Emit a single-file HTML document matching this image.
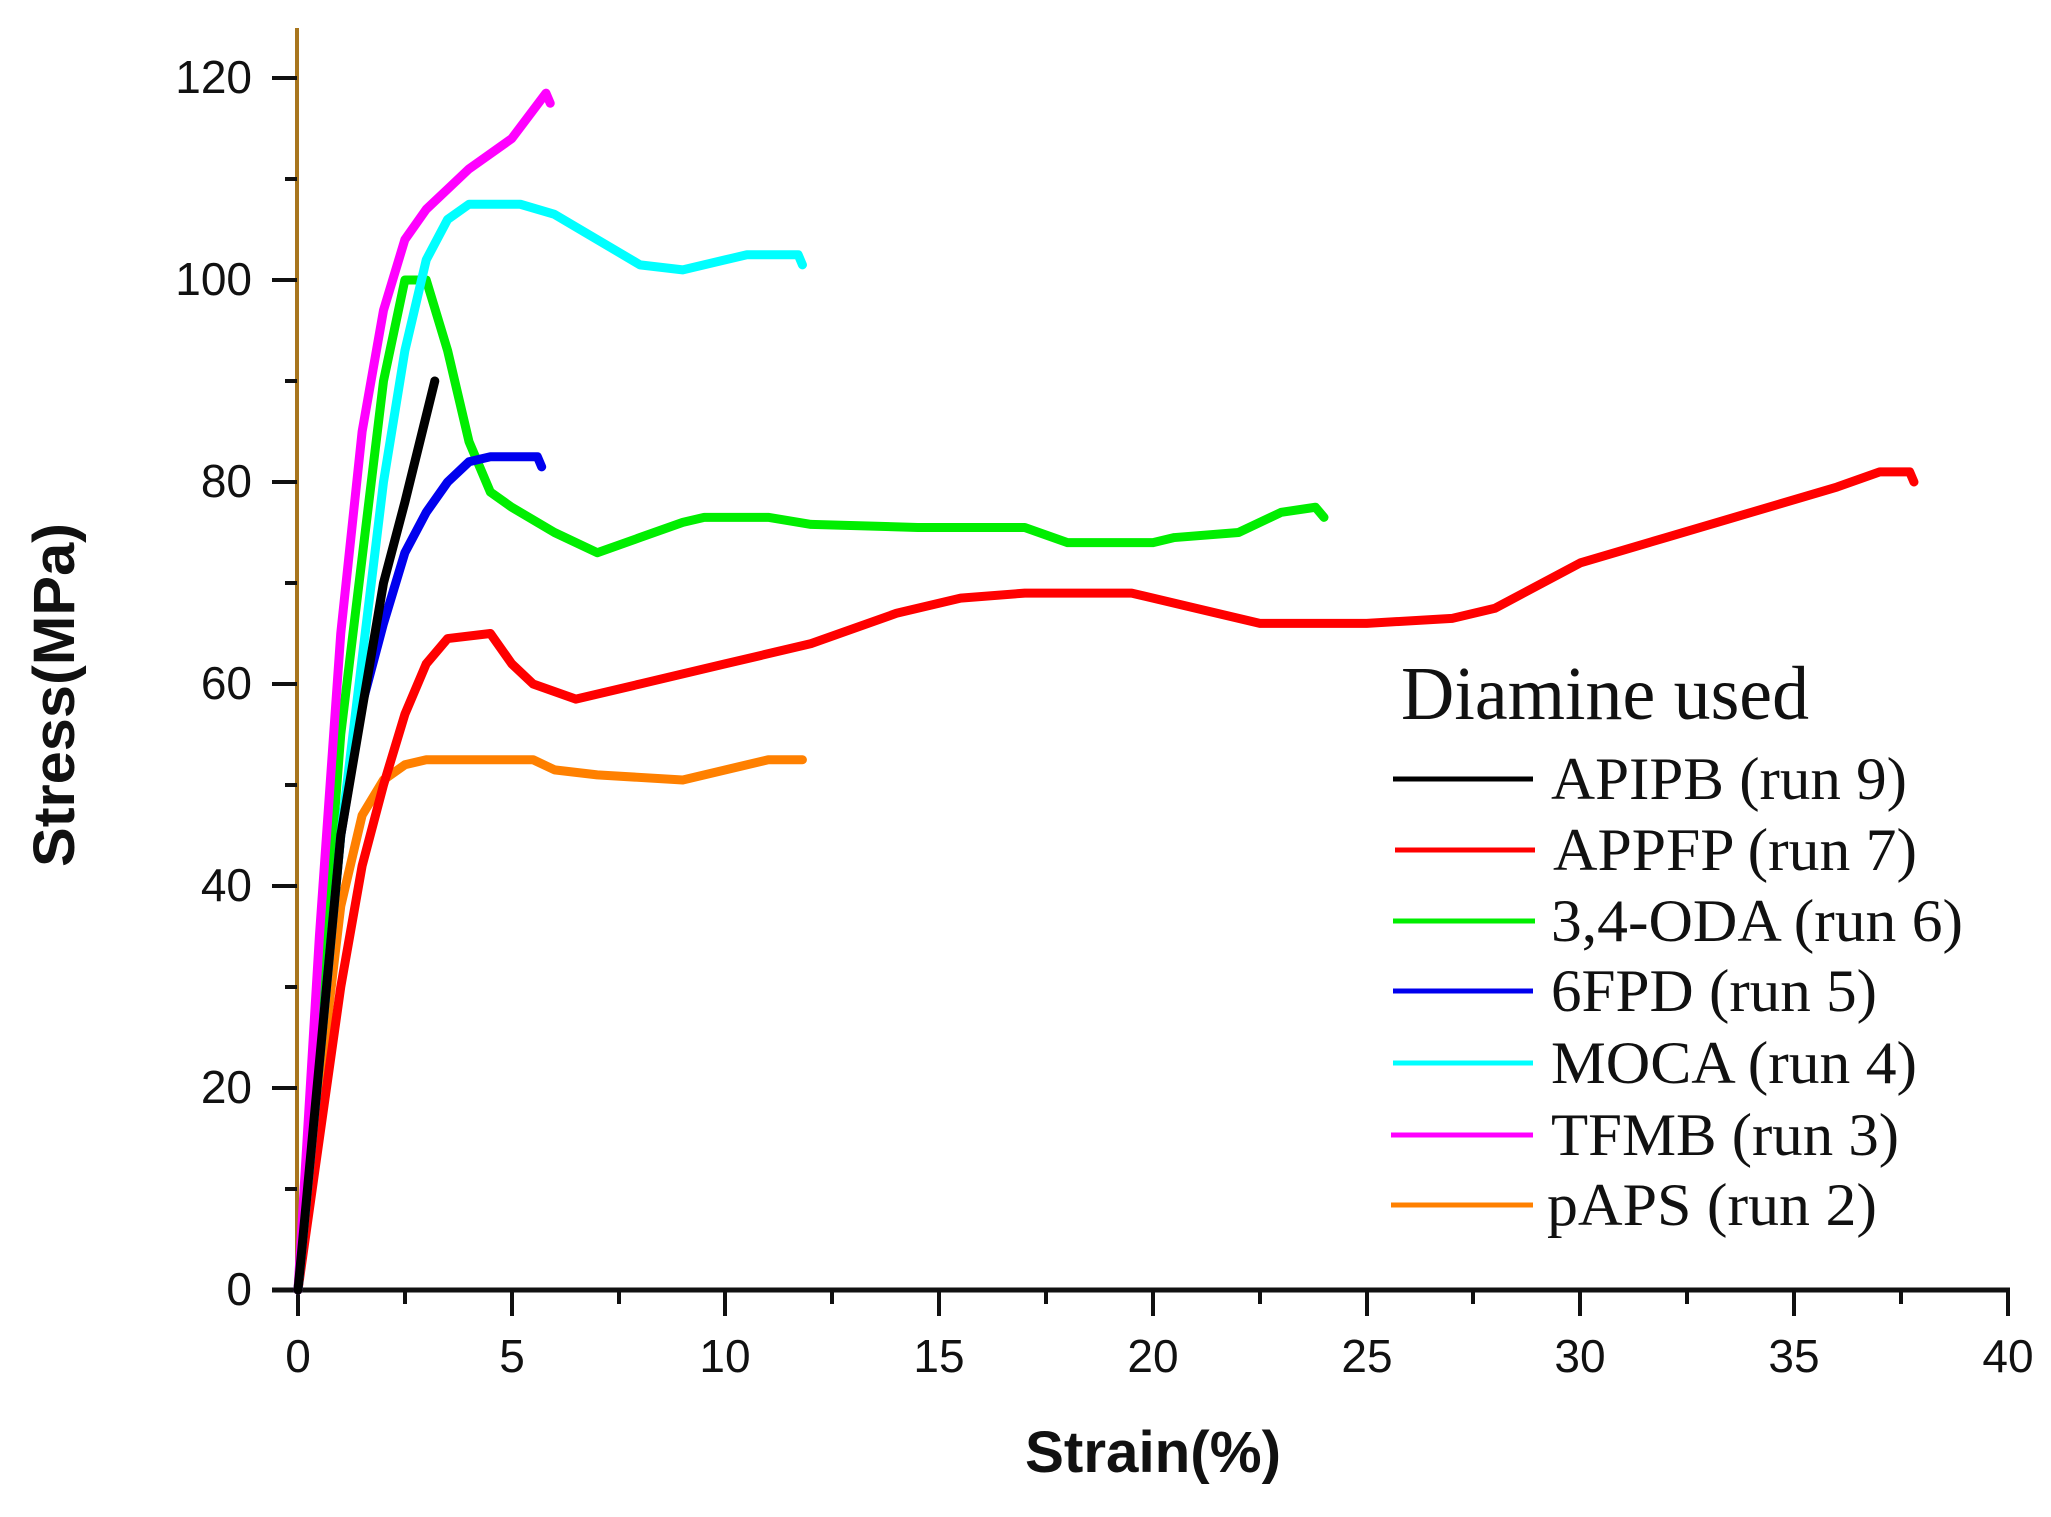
<!DOCTYPE html>
<html><head><meta charset="utf-8"><style>
html,body{margin:0;padding:0;background:#fff;}
svg{display:block}
.t{font-family:"Liberation Sans",Arial,sans-serif;font-size:46px;fill:#111}
.lg{font-family:"Liberation Serif","Times New Roman",serif;fill:#111}
</style></head><body>
<svg width="2051" height="1517" viewBox="0 0 2051 1517" xmlns="http://www.w3.org/2000/svg">
<line x1="297" y1="28" x2="297" y2="1292" stroke="#a8761e" stroke-width="4"/>
<line x1="272" y1="1290" x2="2010" y2="1290" stroke="#111" stroke-width="5"/>
<g stroke="#111" stroke-width="4">
<line x1="272" y1="1290" x2="297" y2="1290"/><line x1="272" y1="1088" x2="297" y2="1088"/>
<line x1="272" y1="886" x2="297" y2="886"/><line x1="272" y1="684" x2="297" y2="684"/>
<line x1="272" y1="482" x2="297" y2="482"/><line x1="272" y1="280" x2="297" y2="280"/>
<line x1="272" y1="78" x2="297" y2="78"/>
<line x1="285" y1="1189" x2="297" y2="1189"/><line x1="285" y1="987" x2="297" y2="987"/>
<line x1="285" y1="785" x2="297" y2="785"/><line x1="285" y1="583" x2="297" y2="583"/>
<line x1="285" y1="381" x2="297" y2="381"/><line x1="285" y1="179" x2="297" y2="179"/>
<line x1="298" y1="1290" x2="298" y2="1316"/><line x1="512" y1="1290" x2="512" y2="1316"/>
<line x1="725" y1="1290" x2="725" y2="1316"/><line x1="939" y1="1290" x2="939" y2="1316"/>
<line x1="1153" y1="1290" x2="1153" y2="1316"/><line x1="1367" y1="1290" x2="1367" y2="1316"/>
<line x1="1580" y1="1290" x2="1580" y2="1316"/><line x1="1794" y1="1290" x2="1794" y2="1316"/>
<line x1="2008" y1="1290" x2="2008" y2="1316"/>
<line x1="405" y1="1290" x2="405" y2="1304"/><line x1="619" y1="1290" x2="619" y2="1304"/>
<line x1="832" y1="1290" x2="832" y2="1304"/><line x1="1046" y1="1290" x2="1046" y2="1304"/>
<line x1="1260" y1="1290" x2="1260" y2="1304"/><line x1="1473" y1="1290" x2="1473" y2="1304"/>
<line x1="1687" y1="1290" x2="1687" y2="1304"/><line x1="1901" y1="1290" x2="1901" y2="1304"/>
</g>
<g class="t" text-anchor="end">
<text x="252" y="1305">0</text><text x="252" y="1103">20</text><text x="252" y="901">40</text>
<text x="252" y="699">60</text><text x="252" y="497">80</text><text x="252" y="295">100</text>
<text x="252" y="93">120</text>
</g>
<g class="t" text-anchor="middle">
<text x="298" y="1372">0</text><text x="512" y="1372">5</text><text x="725" y="1372">10</text>
<text x="939" y="1372">15</text><text x="1153" y="1372">20</text><text x="1367" y="1372">25</text>
<text x="1580" y="1372">30</text><text x="1794" y="1372">35</text><text x="2008" y="1372">40</text>
</g>
<text class="t" x="1153" y="1472" text-anchor="middle" style="font-size:58px;font-weight:bold" textLength="256" lengthAdjust="spacingAndGlyphs">Strain(%)</text>
<text class="t" transform="translate(74,695) rotate(-90)" text-anchor="middle" style="font-size:58px;font-weight:bold" textLength="344" lengthAdjust="spacingAndGlyphs">Stress(MPa)</text>

<g transform="translate(298,1290) scale(42.75,-10.1)" fill="none" stroke-width="9" stroke-linejoin="round" stroke-linecap="round">
<polyline vector-effect="non-scaling-stroke" stroke="#ff8000" points="0,0 0.5,20 1,38 1.5,47 2,50.5 2.5,52 3,52.5 5.5,52.5 6,51.5 7,51 9,50.5 10,51.5 11,52.5 11.8,52.5"/>
<polyline vector-effect="non-scaling-stroke" stroke="#ff0000" points="0,0 0.5,15 1,30 1.5,42 2,50 2.5,57 3,62 3.5,64.5 4.5,65 5,62 5.5,60 6.5,58.5 8,60 10,62 12,64 14,67 15.5,68.5 17,69 19.5,69 21,67.5 22.5,66 25,66 27,66.5 28,67.5 30,72 32,74.5 34,77 36,79.5 37,81 37.7,81 37.8,80"/>
<polyline vector-effect="non-scaling-stroke" stroke="#00ee00" points="0,0 1,55 2,90 2.5,100 3,100 3.5,93 4,84 4.5,79 5,77.5 6,75 7,73 8,74.5 9,76 9.5,76.5 11,76.5 12,75.8 14.5,75.5 17,75.5 18,74 20,74 20.5,74.5 22,75 23,77 23.8,77.5 24,76.5"/>
<polyline vector-effect="non-scaling-stroke" stroke="#0000ee" points="0,0 1,45 1.5,58 2,66 2.5,73 3,77 3.5,80 4,82 4.5,82.5 5.6,82.5 5.7,81.5"/>
<polyline vector-effect="non-scaling-stroke" stroke="#00ffff" points="0,0 1,45 2,80 2.5,93 3,102 3.5,106 4,107.5 5.2,107.5 6,106.5 7,104 8,101.5 9,101 10,102 10.5,102.5 11.7,102.5 11.8,101.5"/>
<polyline vector-effect="non-scaling-stroke" stroke="#ff00ff" points="0,0 0.5,35 1,65 1.5,85 2,97 2.5,104 3,107 3.5,109 4,111 5,114 5.8,118.5 5.9,117.5"/>
<polyline vector-effect="non-scaling-stroke" stroke="#000" points="0,0 1,45 2,70 2.5,78 3.2,90"/>
</g>

<text class="lg" x="1401" y="719" style="font-size:76px" textLength="408" lengthAdjust="spacingAndGlyphs">Diamine used</text>
<g stroke-width="5">
<line x1="1393" y1="779" x2="1533" y2="779" stroke="#000"/>
<line x1="1395" y1="850" x2="1535" y2="850" stroke="#ff0000"/>
<line x1="1393" y1="921" x2="1535" y2="921" stroke="#00ee00"/>
<line x1="1393" y1="991" x2="1533" y2="991" stroke="#0000ee"/>
<line x1="1393" y1="1063" x2="1533" y2="1063" stroke="#00ffff"/>
<line x1="1391" y1="1135" x2="1533" y2="1135" stroke="#ff00ff"/>
<line x1="1391" y1="1205" x2="1533" y2="1205" stroke="#ff8000"/>
</g>
<g class="lg" style="font-size:60px">
<text x="1551" y="799" textLength="356" lengthAdjust="spacingAndGlyphs">APIPB (run 9)</text>
<text x="1553" y="870" textLength="364" lengthAdjust="spacingAndGlyphs">APPFP (run 7)</text>
<text x="1551" y="941" textLength="412" lengthAdjust="spacingAndGlyphs">3,4-ODA (run 6)</text>
<text x="1551" y="1011" textLength="326" lengthAdjust="spacingAndGlyphs">6FPD (run 5)</text>
<text x="1551" y="1083" textLength="366" lengthAdjust="spacingAndGlyphs">MOCA (run 4)</text>
<text x="1551" y="1155" textLength="348" lengthAdjust="spacingAndGlyphs">TFMB (run 3)</text>
<text x="1547" y="1225" textLength="330" lengthAdjust="spacingAndGlyphs">pAPS (run 2)</text>
</g>
</svg>
</body></html>
